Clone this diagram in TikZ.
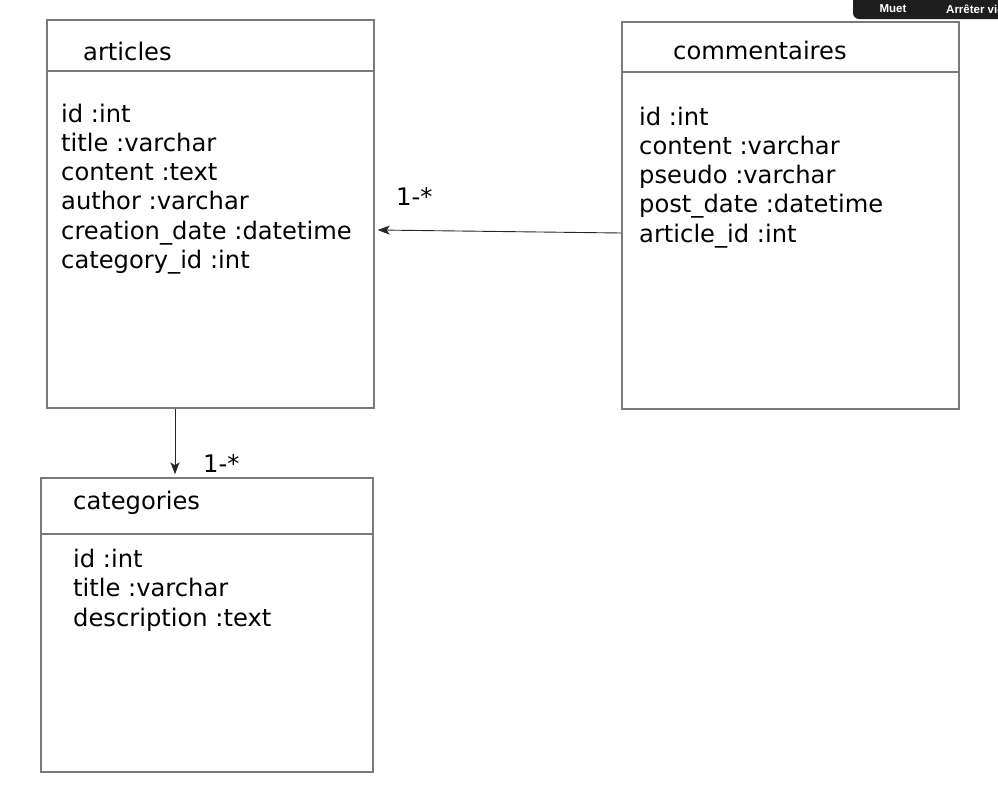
\documentclass[tikz,border=0pt]{standalone}
\usepackage{fontspec}
\setmainfont{DejaVu Sans}
\newfontfamily\barfont{Liberation Sans}
\usepackage{tikz}
\usetikzlibrary{positioning,calc,arrows.meta}

\definecolor{boxgray}{HTML}{7A7A7A}
\definecolor{bardark}{HTML}{1E1E1E}

\tikzset{
	tbl/.style={draw=boxgray, line width=1.4pt, rectangle, inner sep=0pt},
	tblline/.style={draw=boxgray, line width=1.4pt},
	attr/.style={anchor=base west, inner sep=0pt, font=\fontsize{24.2}{29}\selectfont},
	assoc/.style={draw=black!85, line width=0.9pt, -{Stealth[length=12pt,width=9pt,inset=3pt]}},
	mult/.style={anchor=base west, inner sep=0pt, font=\fontsize{24.2}{29}\selectfont}
}

\begin{document}
\begin{tikzpicture}[x=1pt,y=-1pt]
	\def\step{29.3}
	\useasboundingbox (0,0) rectangle (998,790);
	\clip (0,0) rectangle (998,790);

	% toolbar in the corner
	\fill[bardark, rounded corners=6pt] (853,-12) rectangle (1010,19);
	\node[text=white, font=\barfont\bfseries\fontsize{11.5}{13}\selectfont, inner sep=0pt] (muet) at (893,9) {Muet};
	\node[text=white, font=\barfont\bfseries\fontsize{11.5}{13}\selectfont, inner sep=0pt, anchor=west] (stop) at (946,9) {Arrêter vid};

	% articles
	\node[tbl, minimum width=327pt, minimum height=388pt] (articles) at (210.5,214) {};
	\draw[tblline] (articles.west |- 0,71) -- (articles.east |- 0,71);
	\node[attr] (articles-title) at (83,60) {articles};
	\foreach \t [count=\i] in {id :int, title :varchar, content :text, author :varchar, creation\_date :datetime, category\_id :int}
		\node[attr] (articles-\i) at (61,{122+\step*(\i-1)}) {\t};

	% commentaires
	\node[tbl, minimum width=337pt, minimum height=387pt] (commentaires) at (790.5,215.5) {};
	\draw[tblline] (commentaires.west |- 0,72) -- (commentaires.east |- 0,72);
	\node[attr] (commentaires-title) at (673,59.5) {commentaires};
	\foreach \t [count=\i] in {id :int, content :varchar, pseudo :varchar, post\_date :datetime, article\_id :int}
		\node[attr] (commentaires-\i) at (639,{125+\step*(\i-1)}) {\t};

	% categories
	\node[tbl, minimum width=332pt, minimum height=294pt] (categories) at (207,625) {};
	\draw[tblline] (categories.west |- 0,534) -- (categories.east |- 0,534);
	\node[attr] (categories-title) at (73,509) {categories};
	\foreach \t [count=\i] in {id :int, title :varchar, description :text}
		\node[attr] (categories-\i) at (73,{567+29.6*(\i-1)}) {\t};

	% associations
	\draw[assoc] (commentaires.west |- 0,233) -- ([xshift=3pt]articles.east |- 0,230);
	\node[mult] (m1) at (396,205) {1-*};
	\draw[assoc] (articles.south -| 175,0) -- ([yshift=3pt]categories.north -| 175,0);
	\node[mult] (m2) at (203,472) {1-*};
\end{tikzpicture}
\end{document}
